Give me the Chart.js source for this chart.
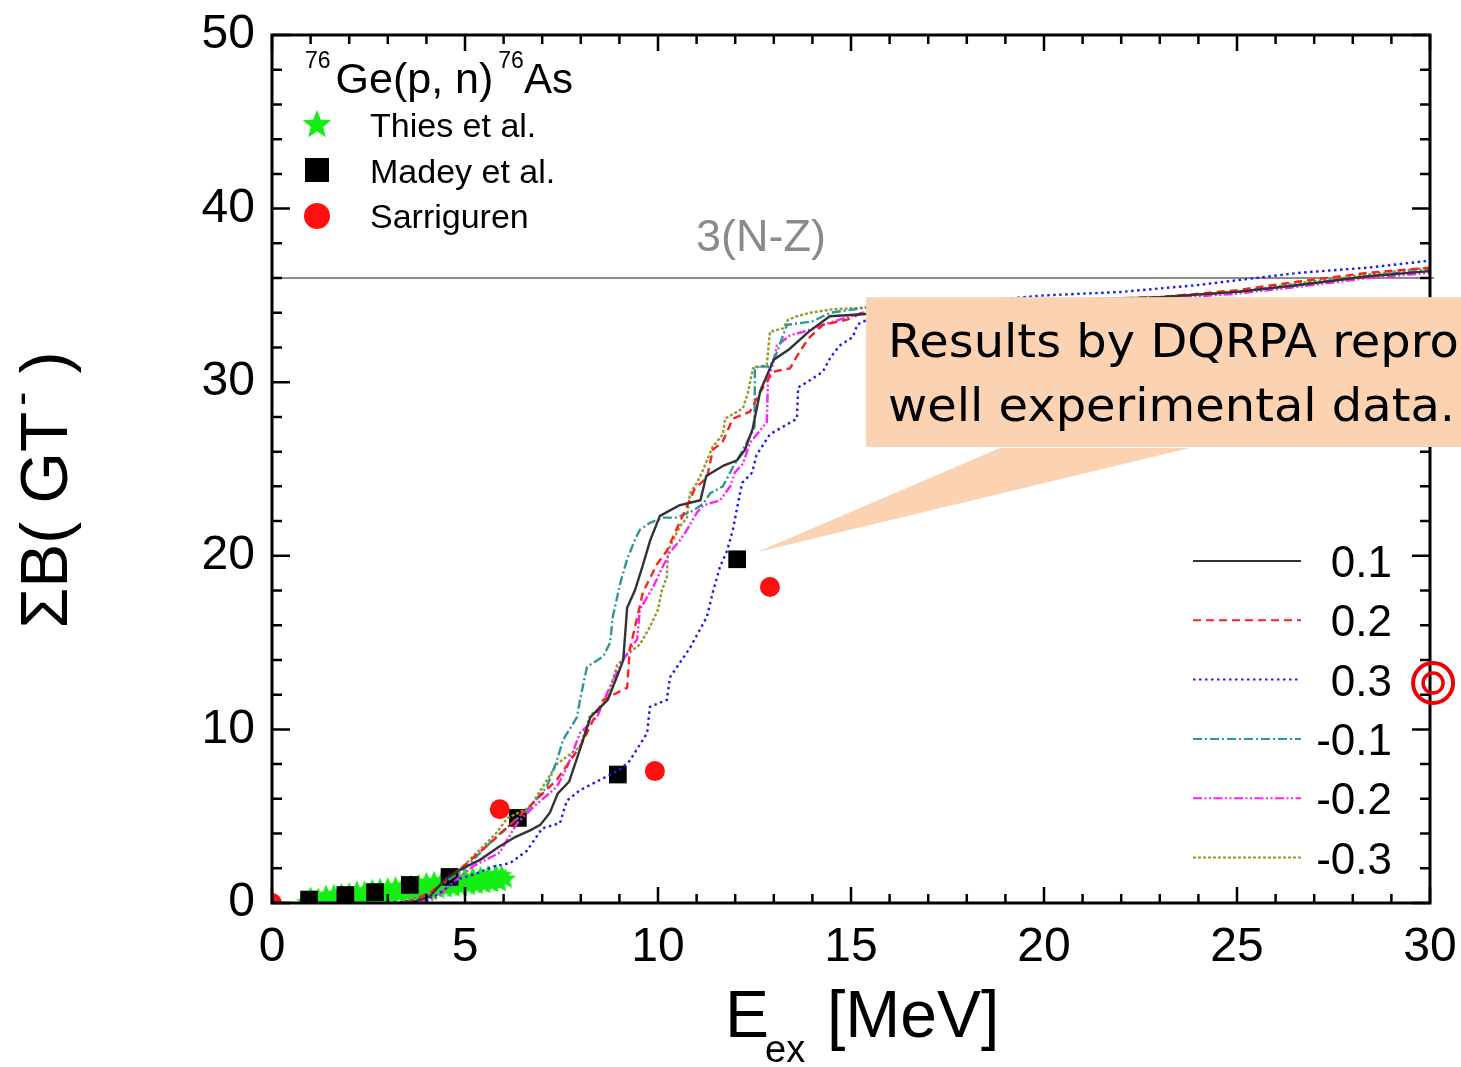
<!DOCTYPE html>
<html>
<head>
<meta charset="utf-8">
<script src="https://cdn.jsdelivr.net/npm/chart.js@4.4.1/dist/chart.umd.min.js"></script>
<style>
  html, body { margin: 0; padding: 0; background: #fff; }
  #wrap { width: 1461px; height: 1067px; }
</style>
</head>
<body>
<div id="wrap"><canvas id="c" width="1461" height="1067"></canvas></div>
<script>
// axis ticks
const xTickVals = [0, 5, 10, 15, 20, 25, 30];
const yTickVals = [0, 10, 20, 30, 40, 50];
const sumRule = 36; // 3(N-Z)

// experimental points [Ex, sum B(GT-)]
const thies = [
  [0.9,0.05],[1.0,0.35],[1.1,0.1],[1.2,0.3],[1.3,0.1],[1.4,0.45],[1.5,0.15],[1.6,0.5],
  [1.7,0.2],[1.8,0.55],[1.9,0.2],[2.0,0.6],[2.1,0.25],[2.2,0.7],[2.3,0.3],[2.4,0.7],
  [2.5,0.35],[2.6,0.8],[2.7,0.35],[2.8,0.85],[2.9,0.4],[3.0,0.9],[3.1,0.45],[3.2,0.95],
  [3.3,0.5],[3.4,1.0],[3.5,0.55],[3.6,1.05],[3.7,0.6],[3.8,1.1],[3.9,0.65],[4.0,1.2],
  [4.1,0.7],[4.2,1.25],[4.3,0.8],[4.4,1.3],[4.5,0.85],[4.6,1.35],[4.7,0.9],[4.8,1.45],
  [4.9,0.95],[5.0,1.45],[5.1,1.0],[5.2,1.5],[5.3,1.05],[5.4,1.55],[5.5,1.1],[5.6,1.6],
  [5.7,1.15],[5.8,1.65],[5.9,1.2],[5.95,1.6],[6.05,1.4]
];
const madey = [[0.96,0.2],[1.9,0.46],[2.67,0.63],[3.57,1.04],[4.6,1.5],[6.37,4.9],[8.96,7.4],[12.05,19.8]];
const sarriguren = [[0,0],[5.9,5.4],[9.92,7.6],[12.9,18.2]];

// DQRPA results for deformation beta2
const betaLabels = ['0.1', '0.2', '0.3', '-0.1', '-0.2', '-0.3'];
const curveP01 = [[3.6,0],[4.1,0.4],[4.5,1.4],[4.95,2.0],[5.4,2.5],[5.85,3.2],[6.3,3.8],[6.7,4.2],[6.95,4.5],
  [7.2,5.2],[7.4,6.3],[7.7,7.0],[8.0,9.0],[8.25,10.7],[8.7,11.7],[9.0,13.4],[9.1,14.0],[9.2,17.0],[9.4,18.0],
  [9.6,19.4],[9.8,20.9],[10.05,22.3],[10.55,22.9],[11.1,23.2],[11.25,24.6],[11.7,25.2],[12.05,25.5],[12.25,26.1],
  [12.45,27.3],[12.65,29.5],[13.0,31.3],[13.4,31.9],[13.9,32.9],[14.45,33.8],[15.2,33.9],[17,34.2],[20,34.6],
  [23,34.9],[25,35.2],[26.6,35.6],[28.4,36.1],[30,36.4]];
const curveP02 = [[3.5,0],[4.1,0.6],[4.95,2.1],[5.83,3.8],[6.5,5.2],[7.38,7.1],[7.98,9.0],[8.58,11.7],[9.2,12.4],
  [9.27,14.6],[9.61,17.9],[9.97,19.5],[10.23,20.3],[10.7,22.6],[10.96,23.9],[11.27,24.5],[11.42,26.1],[11.68,26.6],
  [11.94,27.9],[12.38,28.3],[12.64,29.4],[12.98,30.6],[13.42,30.8],[13.6,31.5],[13.89,32.5],[14.27,33.3],[14.9,33.6],
  [15.3,34.0],[17,34.3],[20,34.7],[23,34.9],[25,35.3],[26.6,35.8],[28.4,36.3],[30,36.6]];
const curveP03 = [[3.0,0],[3.6,0.1],[4.2,0.35],[4.87,1.4],[5.3,1.7],[5.73,2.1],[6.17,2.3],[6.6,3.0],[7.0,4.3],
  [7.46,4.6],[7.64,5.9],[7.98,6.5],[8.68,7.3],[9.02,7.7],[9.27,8.2],[9.72,9.8],[9.79,11.3],[10.23,11.7],[10.31,13.0],
  [10.83,14.7],[11.27,16.5],[11.42,17.9],[11.61,19.4],[11.79,20.3],[11.94,21.5],[12.07,23.0],[12.18,24.2],[12.44,24.8],
  [12.55,25.8],[12.9,27.0],[13.6,27.9],[13.63,29.7],[13.86,30.0],[14.27,30.6],[14.46,31.4],[14.7,32.1],[15.05,32.6],
  [15.16,33.3],[15.3,33.5],[16.5,34.1],[18,34.6],[20,35.0],[22,35.2],[24,35.6],[26.6,36.3],[28.4,36.6],[30,37.0]];
const curveM01 = [[3.4,0],[4.1,0.6],[4.95,1.9],[5.8,3.8],[6.68,5.5],[7.12,6.7],[7.38,8.2],[7.54,9.4],[7.9,10.7],
  [7.98,11.7],[8.16,13.6],[8.58,14.2],[8.76,15.0],[8.83,16.5],[9.02,18.4],[9.2,19.8],[9.4,20.9],[9.53,21.5],[9.79,21.9],
  [10.13,22.2],[10.49,22.2],[10.91,22.6],[11.17,23.0],[11.35,23.6],[11.68,24.0],[11.94,25.1],[12.2,26.1],[12.5,27.4],
  [12.51,30.9],[12.9,30.9],[13.08,31.7],[13.34,33.3],[14.0,33.5],[14.46,34.0],[15.4,34.3],[17,34.4],[20,34.7],
  [23,34.9],[25,35.2],[26.6,35.6],[28.4,36.1],[30,36.5]];
const curveM02 = [[3.3,0],[4.2,0.2],[4.6,1.0],[5.2,2.1],[5.9,2.9],[6.35,4.6],[6.76,5.5],[7.38,6.7],[7.64,7.8],
  [7.98,9.8],[8.42,10.7],[8.68,12.1],[9.09,14.0],[9.46,15.2],[9.53,16.9],[9.87,18.2],[10.13,19.4],[10.31,20.2],
  [10.57,20.9],[10.75,21.5],[11.01,22.5],[11.17,22.9],[11.61,23.2],[11.87,24.0],[11.99,24.8],[12.2,25.3],[12.38,26.5],
  [12.82,27.7],[12.85,30.2],[12.95,30.8],[13.08,32.1],[13.42,32.7],[13.76,32.9],[14.27,33.3],[14.7,33.6],[15.3,34.0],
  [17,34.2],[20,34.5],[23,34.8],[25,35.1],[26.6,35.5],[28.4,36.0],[30,36.3]];
const curveM03 = [[3.3,0],[4.1,0.6],[4.95,2.1],[5.8,4.0],[6.1,4.9],[6.68,5.5],[7.38,8.0],[7.98,9.0],[8.24,10.8],
  [8.42,11.1],[8.68,11.7],[8.94,13.7],[9.2,14.3],[9.53,14.9],[9.79,15.9],[10.0,16.9],[10.1,18.0],[10.23,18.8],
  [10.26,20.3],[10.39,20.9],[10.57,21.7],[10.75,22.2],[10.83,23.6],[11.01,24.2],[11.14,24.8],[11.27,25.5],[11.42,26.3],
  [11.61,26.8],[11.68,27.0],[11.74,27.9],[12.05,28.3],[12.2,28.5],[12.33,29.4],[12.46,30.8],[12.82,31.0],[12.9,32.9],
  [13.24,33.1],[13.37,33.6],[13.6,33.8],[13.94,34.0],[14.53,34.2],[15.4,34.3],[17,34.4],[20,34.7],[23,34.9],
  [25,35.2],[26.6,35.7],[28.4,36.2],[30,36.6]];

const curves = [curveP01, curveP02, curveP03, curveM01, curveM02, curveM03];
const curveColors = ['#333333', '#ff2020', '#1a1aff', '#2f9696', '#ff20ff', '#99992a'];
const curveDash = [[], [8, 5], [2.5, 3.5], [9, 3, 2, 3], [9, 2.5, 2, 2.5, 2, 2.5], [3, 2]];

const SANS = '"Liberation Sans", Arial, sans-serif';

function starPath(g, cx, cy, ro, ri) {
  g.beginPath();
  for (let i = 0; i < 10; i++) {
    const r = i % 2 ? ri : ro;
    const a = -Math.PI / 2 + i * Math.PI / 5;
    g.lineTo(cx + r * Math.cos(a), cy + r * Math.sin(a));
  }
  g.closePath();
}

// small filled star used as point style
const starImg = document.createElement('canvas');
starImg.width = 22; starImg.height = 22;
(function () {
  const g = starImg.getContext('2d');
  starPath(g, 11, 11.5, 11, 5);
  g.fillStyle = '#14ee14';
  g.fill();
})();

const toXY = arr => arr.map(p => ({ x: p[0], y: p[1] }));

const datasets = curves.map((c, i) => ({
  label: betaLabels[i],
  data: toXY(c),
  showLine: true,
  borderColor: curveColors[i],
  borderWidth: 2.4,
  borderDash: curveDash[i],
  pointRadius: 0,
  fill: false,
  tension: 0,
  clip: 0,
  order: 1
}));
datasets.push({
  label: 'Sarriguren', data: toXY(sarriguren), pointStyle: 'circle', pointRadius: 10,
  backgroundColor: '#ff1010', borderWidth: 0, clip: 0, order: 4
});
datasets.push({
  label: 'Madey et al.', data: toXY(madey), pointStyle: 'rect', pointRadius: 12.5,
  backgroundColor: '#000', borderWidth: 0, clip: 0, order: 5
});
datasets.push({
  label: 'Thies et al.', data: toXY(thies), pointStyle: starImg, pointRadius: 11,
  clip: 0, order: 6
});

function text(ctx, s, x, y, font, color, align) {
  ctx.font = font;
  ctx.fillStyle = color || '#000';
  ctx.textAlign = align || 'left';
  ctx.textBaseline = 'alphabetic';
  ctx.fillText(s, x, y);
  return ctx.measureText(s).width;
}

const deco = {
  id: 'deco',
  beforeDatasetsDraw(chart) {
    const { ctx, chartArea: a, scales: { y } } = chart;
    const ys = y.getPixelForValue(sumRule);
    ctx.save();
    ctx.strokeStyle = '#8c8c8c';
    ctx.lineWidth = 2;
    ctx.beginPath();
    ctx.moveTo(a.left, ys); ctx.lineTo(a.right + 4, ys);
    ctx.stroke();
    text(ctx, '3(N-Z)', a.left + 489, ys - 27, '45px ' + SANS, '#8a8a8a', 'center');
    ctx.restore();
  },
  afterDatasetsDraw(chart) {
    const { ctx, chartArea: a, scales: { x, y } } = chart;
    ctx.save();

    // frame + inward ticks
    ctx.strokeStyle = '#000';
    ctx.lineWidth = 3;
    ctx.strokeRect(a.left, a.top, a.right - a.left, a.bottom - a.top);
    ctx.lineWidth = 2.5;
    ctx.beginPath();
    for (let v = 0; v <= 30; v++) {
      const px = x.getPixelForValue(v);
      const L = v % 5 === 0 ? 16 : 9;
      ctx.moveTo(px, a.bottom); ctx.lineTo(px, a.bottom - L);
      ctx.moveTo(px, a.top); ctx.lineTo(px, a.top + L);
    }
    for (let v = 0; v <= 50; v += 2) {
      const py = y.getPixelForValue(v);
      const L = v % 10 === 0 ? 18 : 10;
      ctx.moveTo(a.left, py); ctx.lineTo(a.left + L, py);
      ctx.moveTo(a.right, py); ctx.lineTo(a.right - L, py);
    }
    ctx.stroke();

    // callout
    const bl = x.getPixelForValue(15.39), bt = y.getPixelForValue(34.9), bb = y.getPixelForValue(26.27);
    ctx.fillStyle = '#fbd3b2';
    ctx.beginPath();
    ctx.moveTo(x.getPixelForValue(12.56), y.getPixelForValue(20.2));
    ctx.lineTo(x.getPixelForValue(18.86), bb + 1);
    ctx.lineTo(x.getPixelForValue(23.78), bb + 1);
    ctx.closePath();
    ctx.fill();
    ctx.fillRect(bl, bt, chart.width - bl + 5, bb - bt);
    const cf = '46px "Comic Sans MS", "DejaVu Sans", sans-serif';
    ctx.font = cf;
    const w2 = ctx.measureText('well experimental data.').width;
    const sx = 567 / w2;
    ctx.save();
    ctx.translate(bl + 22, 0);
    ctx.scale(sx, 1);
    text(ctx, 'Results by DQRPA reproduce', 0, bt + 60, cf, '#000');
    text(ctx, 'well experimental data.', 0, bt + 124, cf, '#000');
    ctx.restore();

    // target mark on the right axis
    const tx = x.getPixelForValue(30.08), ty = y.getPixelForValue(12.67);
    ctx.strokeStyle = '#ee0000';
    ctx.lineWidth = 4;
    ctx.beginPath(); ctx.arc(tx, ty, 20, 0, Math.PI * 2); ctx.stroke();
    ctx.lineWidth = 3.5;
    ctx.beginPath(); ctx.arc(tx, ty, 10, 0, Math.PI * 2); ctx.stroke();

    // top-left legend
    let lx = a.left + 33;
    lx += text(ctx, '76', lx, 68, '23px ' + SANS);
    lx += text(ctx, 'Ge(p, n)', lx + 5, 93, '43px ' + SANS) + 10;
    lx += text(ctx, '76', lx, 68, '23px ' + SANS);
    text(ctx, 'As', lx, 93, '42px ' + SANS);
    ctx.fillStyle = '#14ee14';
    starPath(ctx, a.left + 45, 125, 15, 6.5); ctx.fill();
    ctx.fillStyle = '#000';
    ctx.fillRect(a.left + 33, 158, 24, 24);
    ctx.fillStyle = '#ff1010';
    ctx.beginPath(); ctx.arc(a.left + 45, 216, 13, 0, Math.PI * 2); ctx.fill();
    text(ctx, 'Thies et al.', a.left + 98, 137, '34px ' + SANS);
    text(ctx, 'Madey et al.', a.left + 98, 183, '34px ' + SANS);
    text(ctx, 'Sarriguren', a.left + 98, 228, '34px ' + SANS);

    // right legend for beta2
    betaLabels.forEach((lab, i) => {
      const ly = 561 + i * 59.3;
      ctx.strokeStyle = curveColors[i];
      ctx.lineWidth = 2;
      ctx.setLineDash(curveDash[i]);
      ctx.beginPath(); ctx.moveTo(1193, ly); ctx.lineTo(1301, ly); ctx.stroke();
      ctx.setLineDash([]);
      text(ctx, lab, 1392, ly + 16, '44px ' + SANS, '#000', 'right');
    });

    // axis titles
    let ex = 725;
    ex += text(ctx, 'E', ex, 1037, '66px ' + SANS);
    text(ctx, 'ex', ex - 4, 1062, '38px ' + SANS);
    text(ctx, '[MeV]', 827, 1037, '66px ' + SANS);

    ctx.save();
    ctx.translate(67, 490);
    ctx.rotate(-Math.PI / 2);
    const f = '66px ' + SANS;
    ctx.font = f;
    const wA = ctx.measureText('\u03A3B( GT').width;
    ctx.font = '42px ' + SANS;
    const wM = ctx.measureText('-').width;
    ctx.font = f;
    const wB = ctx.measureText(' )').width;
    let tx0 = -(wA + wM + 6 + wB) / 2;
    tx0 += text(ctx, '\u03A3B( GT', tx0, 0, f);
    tx0 += text(ctx, '-', tx0 + 6, -32, '42px ' + SANS) + 6;
    text(ctx, ' )', tx0, 0, f);
    ctx.restore();

    ctx.restore();
  }
};

new Chart(document.getElementById('c'), {
  type: 'scatter',
  data: { datasets },
  options: {
    responsive: false,
    animation: false,
    devicePixelRatio: 1,
    layout: { padding: { left: 0, top: 35, right: 31, bottom: 0 } },
    plugins: { legend: { display: false }, title: { display: false }, tooltip: { enabled: false } },
    scales: {
      x: {
        type: 'linear', min: 0, max: 30,
        afterFit(s) { s.height = 164; s.paddingLeft = 0; s.paddingRight = 0; },
        afterBuildTicks(s) { s.ticks = xTickVals.map(v => ({ value: v })); },
        grid: { display: false, drawTicks: false },
        border: { display: false },
        ticks: { padding: 16, color: '#000', font: { family: SANS, size: 48 }, maxRotation: 0 }
      },
      y: {
        type: 'linear', min: 0, max: 50,
        afterFit(s) { s.width = 272; s.paddingTop = 0; s.paddingBottom = 0; },
        afterBuildTicks(s) { s.ticks = yTickVals.map(v => ({ value: v })); },
        grid: { display: false, drawTicks: false },
        border: { display: false },
        ticks: { padding: 17, color: '#000', font: { family: SANS, size: 48 } }
      }
    }
  },
  plugins: [deco]
});
</script>
</body>
</html>
